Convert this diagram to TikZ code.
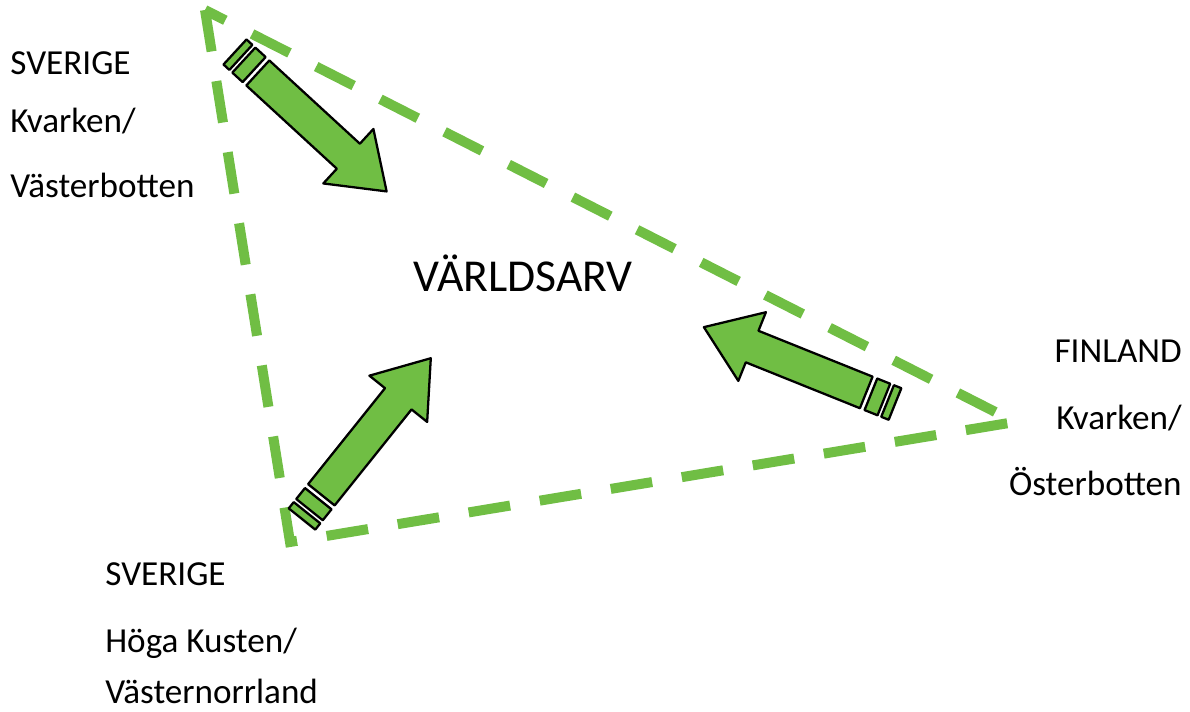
\documentclass[tikz,border=0pt]{standalone}
\usepackage{fontspec}
\setmainfont{Carlito}
\usepackage{tikz}
\usetikzlibrary{calc}
\usetikzlibrary{positioning}

\definecolor{grass}{RGB}{112,190,68}

\tikzset{
  arrowfill/.style = {draw=black,fill=grass,line width=1.3pt,line join=round},
  blockarrow/.pic = {
    \draw[arrowfill] (0,-17) rectangle (8,17);
    \draw[arrowfill] (12,-17) rectangle (26,17);
    \draw[arrowfill] (31,-17) -- (154,-17) -- (154,-37) -- (206,0) -- (154,37) -- (154,17) -- (31,17) -- cycle;
  }
}

\begin{document}
\begin{tikzpicture}[
  x=0.02cm, y=0.02cm,
  border/.style = {draw=grass,line width=0.2cm,dash pattern=on 0.84cm off 0.6cm,line join=miter},
  lbl/.style = {font=\fontsize{20}{24}\selectfont,inner sep=0pt},
  big/.style = {font=\fontsize{26}{30}\selectfont,inner sep=0pt}
  ]
	\useasboundingbox (0,0) rectangle (1190,712);

	\coordinate (@1) at (205,702);
	\coordinate (@2) at (290,170);
	\coordinate (@3) at (1015,290);

	\draw[border] (@1) -- (@2) -- (@3) -- cycle;

	\pic[rotate=-42.6] at (235,660) {blockarrow};
	\pic[rotate=51.3] at (302,193) {blockarrow};
	\pic[rotate=158.1] at (895,308) {blockarrow};

	\node[big,anchor=base west] (arv) at (413,420) {VÄRLDSARV};

	\node[lbl,anchor=base west] (sv1) at (10,637) {SVERIGE};
	\node[lbl,anchor=base west] (kv1) at (10,579) {Kvarken/};
	\node[lbl,anchor=base west] (vb) at (10,514) {Västerbotten};

	\node[lbl,anchor=base east] (fi) at (1182,349) {FINLAND};
	\node[lbl,anchor=base east] (kv2) at (1182,282) {Kvarken/};
	\node[lbl,anchor=base east] (ob) at (1182,216) {Österbotten};

	\node[lbl,anchor=base west] (sv2) at (105,126) {SVERIGE};
	\node[lbl,anchor=base west] (hk) at (105,59) {Höga Kusten/};
	\node[lbl,anchor=base west] (vn) at (105,8) {Västernorrland};

\end{tikzpicture}
\end{document}
